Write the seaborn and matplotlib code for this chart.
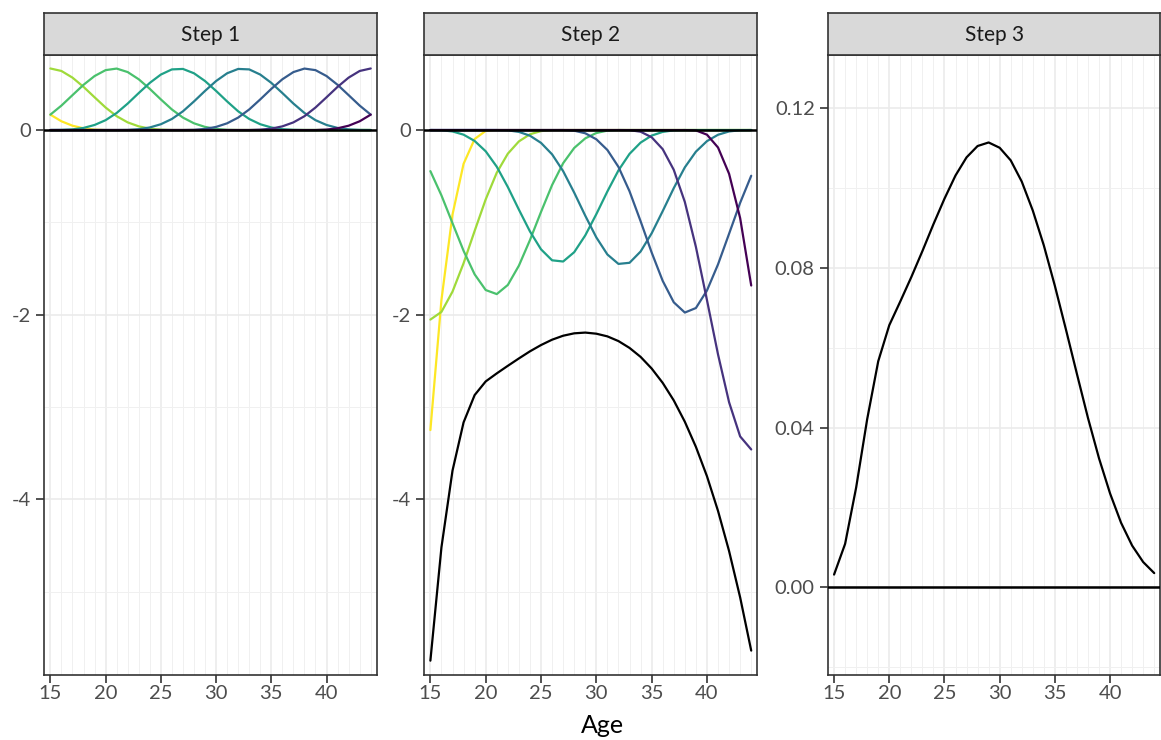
import matplotlib
matplotlib.use("Agg")
import matplotlib.pyplot as plt
import seaborn as sns
import pandas as pd
from matplotlib.ticker import FixedLocator

# ---------------- data ----------------
ages = [15, 16, 17, 18, 19, 20, 21, 22, 23, 24, 25, 26, 27, 28, 29,
        30, 31, 32, 33, 34, 35, 36, 37, 38, 39, 40, 41, 42, 43, 44]

basis_names = ["B1", "B2", "B3", "B4", "B5", "B6", "B7", "B8"]

# Step 1: spline basis functions
b1 = [0.167, 0.095, 0.047, 0.019, 0.005, 0, 0, 0, 0, 0, 0, 0, 0, 0, 0,
      0, 0, 0, 0, 0, 0, 0, 0, 0, 0, 0, 0, 0, 0, 0]
b2 = [0.667, 0.640, 0.568, 0.468, 0.355, 0.244, 0.150, 0.083, 0.040, 0.015, 0.004, 0, 0, 0, 0,
      0, 0, 0, 0, 0, 0, 0, 0, 0, 0, 0, 0, 0, 0, 0]
b3 = [0.167, 0.265, 0.378, 0.490, 0.585, 0.649, 0.666, 0.628, 0.550, 0.446, 0.332, 0.223, 0.135, 0.073, 0.034,
      0.012, 0.002, 0, 0, 0, 0, 0, 0, 0, 0, 0, 0, 0, 0, 0]
b4 = [0, 0.001, 0.007, 0.023, 0.055, 0.107, 0.185, 0.287, 0.401, 0.511, 0.601, 0.657, 0.662, 0.615, 0.531,
      0.424, 0.310, 0.203, 0.120, 0.063, 0.028, 0.009, 0.002, 0, 0, 0, 0, 0, 0, 0]
b5 = [0, 0, 0, 0, 0, 0, 0, 0.001, 0.009, 0.028, 0.063, 0.120, 0.203, 0.310, 0.424,
      0.531, 0.615, 0.662, 0.657, 0.601, 0.511, 0.401, 0.287, 0.185, 0.107, 0.055, 0.023, 0.007, 0.001, 0]
b6 = [0, 0, 0, 0, 0, 0, 0, 0, 0, 0, 0, 0, 0, 0.002, 0.012,
      0.034, 0.073, 0.135, 0.223, 0.332, 0.446, 0.550, 0.628, 0.666, 0.649, 0.585, 0.490, 0.378, 0.265, 0.167]
b7 = [0, 0, 0, 0, 0, 0, 0, 0, 0, 0, 0, 0, 0, 0, 0,
      0, 0, 0, 0, 0.004, 0.015, 0.040, 0.083, 0.150, 0.244, 0.355, 0.468, 0.568, 0.640, 0.667]
b8 = [0, 0, 0, 0, 0, 0, 0, 0, 0, 0, 0, 0, 0, 0, 0,
      0, 0, 0, 0, 0, 0, 0, 0, 0, 0, 0.005, 0.019, 0.047, 0.095, 0.167]

# Step 2: weighted basis functions and their sum
w1 = [-3.250, -1.840, -0.915, -0.366, -0.097, -0.009, 0, 0, 0, 0, 0, 0, 0, 0, 0,
      0, 0, 0, 0, 0, 0, 0, 0, 0, 0, 0, 0, 0, 0, 0]
w2 = [-2.053, -1.970, -1.750, -1.443, -1.093, -0.751, -0.462, -0.256, -0.123, -0.046, -0.011, -0.001, 0, 0, 0,
      0, 0, 0, 0, 0, 0, 0, 0, 0, 0, 0, 0, 0, 0, 0]
w3 = [-0.445, -0.708, -1.009, -1.308, -1.563, -1.733, -1.777, -1.678, -1.469, -1.192, -0.887, -0.596, -0.359, -0.194, -0.090,
      -0.032, -0.006, 0, 0, 0, 0, 0, 0, 0, 0, 0, 0, 0, 0, 0]
w4 = [0, -0.002, -0.015, -0.050, -0.118, -0.230, -0.397, -0.617, -0.862, -1.098, -1.292, -1.411, -1.424, -1.323, -1.141,
      -0.911, -0.665, -0.437, -0.258, -0.136, -0.060, -0.020, -0.003, 0, 0, 0, 0, 0, 0, 0]
w5 = [0, 0, 0, 0, 0, 0, 0, -0.003, -0.020, -0.061, -0.139, -0.263, -0.445, -0.678, -0.928,
      -1.163, -1.348, -1.450, -1.438, -1.316, -1.119, -0.878, -0.629, -0.404, -0.234, -0.120, -0.051, -0.015, -0.002, 0]
w6 = [0, 0, 0, 0, 0, 0, 0, 0, 0, 0, 0, 0, 0, -0.007, -0.035,
      -0.100, -0.216, -0.399, -0.663, -0.987, -1.326, -1.634, -1.866, -1.977, -1.928, -1.738, -1.455, -1.123, -0.788, -0.495]
w7 = [0, 0, 0, 0, 0, 0, 0, 0, 0, 0, 0, 0, 0, 0, 0,
      0, 0, 0, -0.001, -0.018, -0.078, -0.207, -0.431, -0.779, -1.266, -1.842, -2.431, -2.949, -3.319, -3.460]
w8 = [0, 0, 0, 0, 0, 0, 0, 0, 0, 0, 0, 0, 0, 0, 0,
      0, 0, 0, 0, 0, 0, 0, 0, 0, -0.004, -0.050, -0.189, -0.474, -0.954, -1.684]
total = [-5.748, -4.520, -3.689, -3.167, -2.871, -2.723, -2.636, -2.554, -2.474, -2.397, -2.329, -2.271, -2.228, -2.202, -2.194,
         -2.206, -2.235, -2.286, -2.360, -2.457, -2.583, -2.739, -2.929, -3.160, -3.432, -3.750, -4.126, -4.561, -5.063, -5.639]

# Step 3: resulting schedule
step3 = [0.00319, 0.01089, 0.02501, 0.04215, 0.05665, 0.06568, 0.07165, 0.07777, 0.08425, 0.09099,
         0.09739, 0.10321, 0.10775, 0.11059, 0.11148, 0.11015, 0.10700, 0.10168, 0.09442, 0.08568,
         0.07555, 0.06464, 0.05345, 0.04243, 0.03232, 0.02352, 0.01615, 0.01045, 0.00633, 0.00356]

panel_titles = ["Step 1", "Step 2", "Step 3"]
x_label = "Age"

# ---------------- styling ----------------
sns.set_theme(style="white")
plt.rcParams["font.family"] = ["Lato", "DejaVu Sans"]
plt.rcParams["axes.unicode_minus"] = False

palette = dict(zip(basis_names, ["#FDE725", "#9FDA3A", "#4AC16D", "#1FA187",
                                 "#277F8E", "#365C8D", "#46337E", "#440154"]))

def long_df(series):
    rows = []
    for name, vals in zip(basis_names, series):
        for a, v in zip(ages, vals):
            rows.append({"age": a, "value": v, "basis": name})
    return pd.DataFrame(rows)

df1 = long_df([b1, b2, b3, b4, b5, b6, b7, b8])
df2 = long_df([w1, w2, w3, w4, w5, w6, w7, w8])
df_total = pd.DataFrame({"age": ages, "value": total})
df3 = pd.DataFrame({"age": ages, "value": step3})

W, H = 1161, 740
fig = plt.figure(figsize=(W / 100, H / 100), dpi=100)

panel_bottom_px, panel_top_px = 674.7, 55.0
strip_top_px = 13.0
panels_px = [(44.3, 376.8), (424.3, 757.3), (828.0, 1160.3)]

grey20 = "#333333"
axes = []
for (l, r) in panels_px:
    ax = fig.add_axes([l / W, (H - panel_bottom_px) / H, (r - l) / W,
                       (panel_bottom_px - panel_top_px) / H])
    axes.append(ax)

ax1, ax2, ax3 = axes
lw_line = 1.6

sns.lineplot(data=df1, x="age", y="value", hue="basis", palette=palette,
             estimator=None, legend=False, linewidth=lw_line, ax=ax1)
sns.lineplot(data=df2, x="age", y="value", hue="basis", palette=palette,
             estimator=None, legend=False, linewidth=lw_line, ax=ax2)
sns.lineplot(data=df_total, x="age", y="value", color="black",
             estimator=None, linewidth=lw_line, ax=ax2)
sns.lineplot(data=df3, x="age", y="value", color="black",
             estimator=None, linewidth=lw_line, ax=ax3)

ylims = [(-5.90, 0.813), (-5.90, 0.813), (-0.0219, 0.1334)]
ymajor = [[-4, -2, 0], [-4, -2, 0], [0.0, 0.04, 0.08, 0.12]]
ymajor_lab = [["-4", "-2", "0"], ["-4", "-2", "0"], ["0.00", "0.04", "0.08", "0.12"]]
yminor = [[-5, -3, -1], [-5, -3, -1], [-0.02, 0.02, 0.06, 0.10]]
xmajor = [15, 20, 25, 30, 35, 40]

for i, ax in enumerate(axes):
    ax.axhline(0, color="black", linewidth=1.8, zorder=3)
    ax.set_xlim(14.45, 44.55)
    ax.set_ylim(*ylims[i])
    ax.set_facecolor("white")
    ax.xaxis.set_major_locator(FixedLocator(xmajor))
    ax.xaxis.set_minor_locator(FixedLocator(ages))
    ax.set_xticklabels([str(v) for v in xmajor])
    ax.yaxis.set_major_locator(FixedLocator(ymajor[i]))
    ax.yaxis.set_minor_locator(FixedLocator(yminor[i]))
    ax.set_yticklabels(ymajor_lab[i])
    ax.grid(which="major", color="#EBEBEB", linewidth=1.2)
    ax.grid(which="minor", color="#F0F0F0", linewidth=0.7)
    ax.set_axisbelow(True)
    for s in ax.spines.values():
        s.set_visible(True)
        s.set_color(grey20)
        s.set_linewidth(1.2)
    ax.tick_params(which="major", length=5.5, width=1.2, color=grey20,
                   labelsize=14.5, labelcolor="#4D4D4D", bottom=True, left=True)
    ax.tick_params(axis="x", which="major", pad=2.0)
    ax.tick_params(axis="y", which="major", pad=4)
    ax.tick_params(which="minor", length=0)
    ax.set_xlabel("")
    ax.set_ylabel("")

    # facet strip
    l, r = panels_px[i]
    sax = fig.add_axes([l / W, (H - panel_top_px) / H, (r - l) / W,
                        (panel_top_px - strip_top_px) / H])
    sax.set_facecolor("#D9D9D9")
    sax.set_xticks([])
    sax.set_yticks([])
    for s in sax.spines.values():
        s.set_visible(True)
        s.set_color(grey20)
        s.set_linewidth(1.2)
    sax.text(0.5, 0.47, panel_titles[i], ha="center", va="center",
             fontsize=15, color="#1A1A1A", transform=sax.transAxes)

fig.text(602.3 / W, 0.010, x_label, ha="center", va="baseline",
         fontsize=18, color="black")

fig.savefig("out.png", dpi=100)
